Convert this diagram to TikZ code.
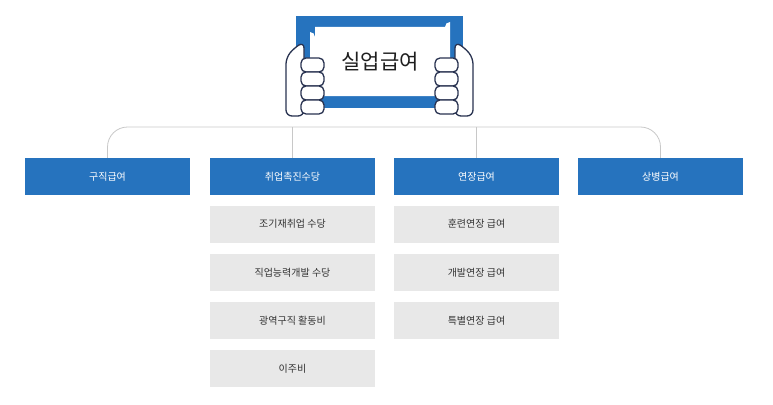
\documentclass[tikz,border=0pt]{standalone}
\usepackage{fontspec}
\setmainfont{Noto Sans CJK KR}
\definecolor{mblue}{RGB}{38,115,190}
\definecolor{mgrey}{RGB}{232,232,232}
\definecolor{mtext}{RGB}{51,51,51}
\definecolor{mline}{RGB}{200,200,200}
\definecolor{mnavy}{RGB}{40,50,80}
\begin{document}
\begin{tikzpicture}[x=1pt,y=-1pt,
  bluebox/.style={fill=mblue,draw=none,minimum width=165pt,minimum height=37pt,text=white,font=\fontsize{10}{12}\selectfont,inner sep=0pt},
  greybox/.style={fill=mgrey,draw=none,minimum width=165pt,minimum height=37pt,text=mtext,font=\fontsize{10}{12}\selectfont,inner sep=0pt},
  conn/.style={draw=mline,line width=0.8pt},
  hand/.style={fill=white,draw=mnavy,line width=1.3pt}]
\useasboundingbox (0,0) rectangle (773,404);
% frame
\fill[mblue] (296,16) rectangle (463,108);
\fill[white] (315,27) -- (445,27) arc[start angle=180,end angle=270,radius=5] -- (450,32) -- (450,91) arc[start angle=90,end angle=180,radius=5] -- (445,96) -- (315,96) arc[start angle=0,end angle=90,radius=5] -- (310,91) -- (310,32) arc[start angle=270,end angle=360,radius=5] -- cycle;
\node[font=\fontsize{21}{24}\selectfont,text={rgb,255:red,30;green,30;blue,30}] (title) at (380,62) {실업급여};
% hands
\foreach \s/\x in {1/296,-1/463}{
  \begin{scope}[shift={(\x,0)},xscale=\s]
  \draw[hand,rounded corners=6pt] (8,75) -- (8,116) -- (-10,116) -- (-10,58) -- (-2,48) -- (8,42) -- (8,60);
  \foreach \y in {58,72,86,100}{
    \draw[hand,rounded corners=5pt] (5,\y) rectangle (28,\y+14);
  }
  \end{scope}
}
% boxes
\node[bluebox] (a) at (107.5,176.5) {구직급여};
\node[bluebox] (b) at (292.5,176.5) {취업촉진수당};
\node[bluebox] (c) at (476.5,176.5) {연장급여};
\node[bluebox] (d) at (660.5,176.5) {상병급여};
\node[greybox] (b1) at (292.5,224) {조기재취업 수당};
\node[greybox] (b2) at (292.5,272.5) {직업능력개발 수당};
\node[greybox] (b3) at (292.5,320.5) {광역구직 활동비};
\node[greybox] (b4) at (292.5,368.5) {이주비};
\node[greybox] (c1) at (476.5,224) {훈련연장 급여};
\node[greybox] (c2) at (476.5,272.5) {개발연장 급여};
\node[greybox] (c3) at (476.5,320.5) {특별연장 급여};
% connectors
\draw[conn,rounded corners=20pt] (a.north) -- (107.5,127) -- (660.5,127) -- (d.north);
\draw[conn] (b.north) -- (292.5,127);
\draw[conn] (c.north) -- (476.5,127);
\end{tikzpicture}
\end{document}
